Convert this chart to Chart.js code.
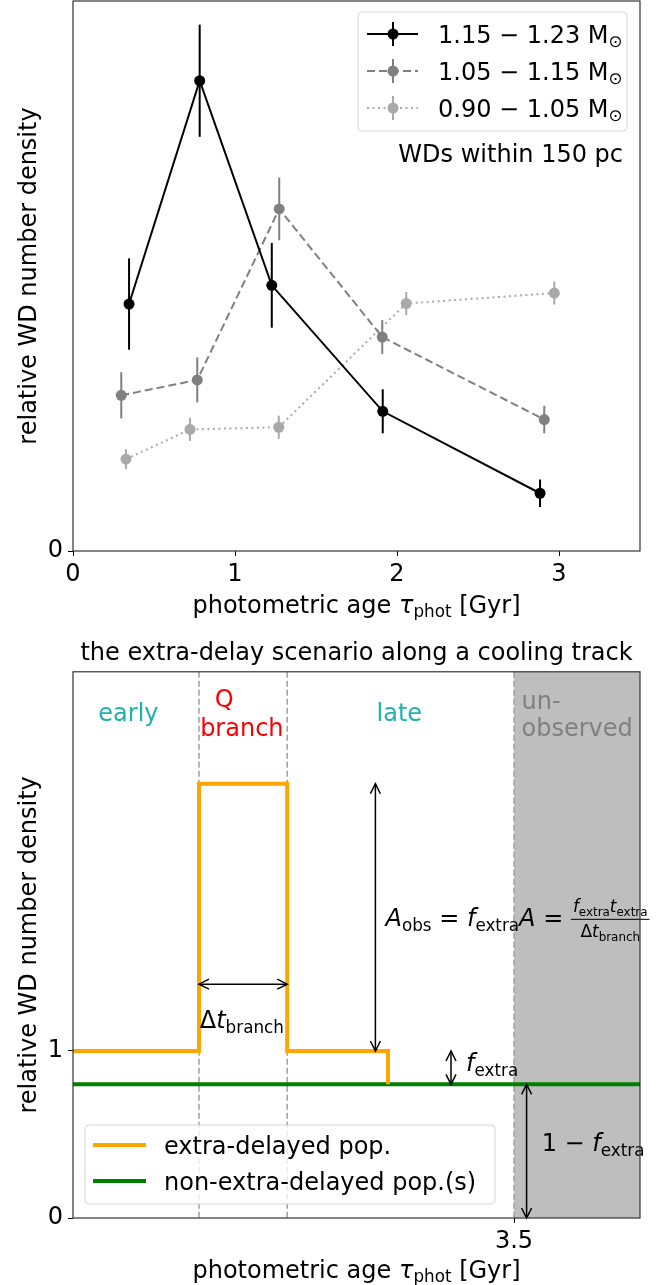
<!DOCTYPE html>
<html>
<head>
<meta charset="utf-8">
<script src="https://cdn.jsdelivr.net/npm/chart.js@4.4.1/dist/chart.umd.min.js"></script>
<style>
  html, body { margin: 0; padding: 0; background: #fff; }
  canvas { display: block; }
</style>
</head>
<body>
<canvas id="ageChart" width="657" height="620"></canvas>
<canvas id="sketchChart" width="657" height="665"></canvas>
<script>
// top panel: WDs within 150 pc, three mass bins
const massBins = ["1.15 \u2212 1.23", "1.05 \u2212 1.15", "0.90 \u2212 1.05"]
const heavyAge = [0.346, 0.782, 1.227, 1.912, 2.883]
const heavyDensity = [0.449, 0.855, 0.483, 0.254, 0.105]
const heavyErr = [0.083, 0.102, 0.077, 0.040, 0.025]
const midAge = [0.298, 0.767, 1.273, 1.909, 2.909]
const midDensity = [0.283, 0.311, 0.622, 0.389, 0.239]
const midErr = [0.042, 0.041, 0.057, 0.031, 0.025]
const lightAge = [0.327, 0.722, 1.270, 2.057, 2.971]
const lightDensity = [0.167, 0.221, 0.225, 0.450, 0.469]
const lightErr = [0.018, 0.021, 0.021, 0.021, 0.021]
const topXTicks = [0, 1, 2, 3]
const topYTicks = [0]

// bottom panel: the extra-delay sketch
const delayedAge = [0, 1.0, 1.0, 1.7, 1.7, 2.5, 2.5]
const delayedDensity = [1, 1, 2.6, 2.6, 1, 1, 0.8]
const steadyAge = [0, 4.5]
const steadyDensity = [0.8, 0.8]
const phaseEdges = [1.0, 1.7, 3.5]
const unobservedFrom = 3.5
const bottomXTicks = [3.5]
const bottomYTicks = [0, 1]

Chart.defaults.font.family = "'DejaVu Sans', sans-serif"
Chart.defaults.font.size = 24
Chart.defaults.color = "#000"
Chart.defaults.animation = false

const FACE = "'DejaVu Sans', sans-serif"
const font = (size, italic) => `${italic ? "italic " : ""}${size}px ${FACE}`

// parts are [text, kind]; kind "" roman, "i" italic, "s" subscript
function richWidth(ctx, parts, size) {
  let w = 0
  for (const [t, k] of parts) {
    ctx.font = font(k.includes("s") ? size * 0.7 : size, k.includes("i"))
    w += ctx.measureText(t).width
  }
  return w
}

function drawRich(ctx, parts, x, y, size, align, color) {
  const w = richWidth(ctx, parts, size)
  let cx = align === "center" ? x - w / 2 : align === "right" ? x - w : x
  const base = y + size * 0.36
  ctx.save()
  ctx.fillStyle = color || "#000"
  ctx.textAlign = "left"
  ctx.textBaseline = "alphabetic"
  for (const [t, k] of parts) {
    const sub = k.includes("s")
    ctx.font = font(sub ? size * 0.7 : size, k.includes("i"))
    ctx.fillText(t, cx, sub ? base + size * 0.2 : base)
    cx += ctx.measureText(t).width
  }
  ctx.restore()
  return w
}

function arrow(ctx, x1, y1, x2, y2) {
  const head = (xa, ya, xb, yb) => {
    const ang = Math.atan2(yb - ya, xb - xa)
    ctx.beginPath()
    ctx.moveTo(xa + 10 * Math.cos(ang) - 5 * Math.sin(ang), ya + 10 * Math.sin(ang) + 5 * Math.cos(ang))
    ctx.lineTo(xa, ya)
    ctx.lineTo(xa + 10 * Math.cos(ang) + 5 * Math.sin(ang), ya + 10 * Math.sin(ang) - 5 * Math.cos(ang))
    ctx.stroke()
  }
  ctx.save()
  ctx.strokeStyle = "#000"
  ctx.lineWidth = 1.5
  ctx.beginPath()
  ctx.moveTo(x1, y1)
  ctx.lineTo(x2, y2)
  ctx.stroke()
  head(x1, y1, x2, y2)
  head(x2, y2, x1, y1)
  ctx.restore()
}

const xTitle = [["photometric age ", ""], ["\u03c4", "i"], ["phot", "s"], [" [Gyr]", ""]]

function axisStyle(ticks, pad) {
  return {
    grid: { display: true, drawOnChartArea: false, tickLength: 5, tickColor: "#000", tickWidth: 1 },
    border: { display: false },
    ticks: { color: "#000", font: { size: 24 }, padding: pad, maxRotation: 0, autoSkip: false, callback: v => String(v) },
    afterBuildTicks: s => { s.ticks = ticks.map(value => ({ value })) }
  }
}

// fixed axis boxes so the plot area lands where the figure has it
const fixX = h => s => { s.height = h; s.paddingLeft = 0; s.paddingRight = 0 }
const fixY = w => s => { s.width = w; s.paddingTop = 0; s.paddingBottom = 0 }

const frame = {
  id: "frame",
  afterDraw(chart, args, opts) {
    const { ctx, chartArea: a } = chart
    ctx.save()
    ctx.strokeStyle = "#333"
    ctx.lineWidth = 1.2
    ctx.strokeRect(a.left, a.top, a.right - a.left, a.bottom - a.top)
    drawRich(ctx, xTitle, (a.left + a.right) / 2, a.bottom + opts.titleGap, 24, "center")
    ctx.restore()
  }
}

const errorBars = {
  id: "errorBars",
  afterDatasetDraw(chart, args) {
    const ds = chart.data.datasets[args.index]
    if (!ds.errors) return
    const { ctx } = chart
    const y = chart.scales.y
    ctx.save()
    ctx.strokeStyle = ds.borderColor
    ctx.lineWidth = 2
    args.meta.data.forEach((pt, i) => {
      const v = ds.data[i].y
      ctx.beginPath()
      ctx.moveTo(pt.x, y.getPixelForValue(v - ds.errors[i]))
      ctx.lineTo(pt.x, y.getPixelForValue(v + ds.errors[i]))
      ctx.stroke()
    })
    ctx.restore()
  }
}

const massLegend = {
  id: "massLegend",
  afterDraw(chart) {
    const { ctx, chartArea: a } = chart
    const right = a.right - 13, top = a.top + 11, w = 269, h = 119
    const left = right - w
    ctx.save()
    ctx.beginPath()
    ctx.roundRect(left, top, w, h, 4)
    ctx.fillStyle = "rgba(255,255,255,0.8)"
    ctx.fill()
    ctx.strokeStyle = "#d6d6d6"
    ctx.lineWidth = 1
    ctx.stroke()
    chart.data.datasets.forEach((ds, i) => {
      const y = top + 22 + i * 37
      ctx.strokeStyle = ds.borderColor
      ctx.fillStyle = ds.borderColor
      ctx.lineWidth = 2
      ctx.setLineDash(ds.borderDash)
      ctx.beginPath()
      ctx.moveTo(left + 9, y)
      ctx.lineTo(left + 60, y)
      ctx.stroke()
      ctx.setLineDash([])
      ctx.beginPath()
      ctx.moveTo(left + 35, y - 12)
      ctx.lineTo(left + 35, y + 12)
      ctx.stroke()
      ctx.beginPath()
      ctx.arc(left + 35, y, 5.5, 0, Math.PI * 2)
      ctx.fill()
      drawRich(ctx, [[ds.label + " M", ""], ["\u2299", "s"]], left + 80, y, 24, "left")
    })
    drawRich(ctx, [["WDs within 150 pc", ""]], a.right - 17, top + 141, 24, "right")
    ctx.restore()
  }
}

const series = [
  { label: massBins[0], x: heavyAge, y: heavyDensity, err: heavyErr, color: "#000000", dash: [] },
  { label: massBins[1], x: midAge, y: midDensity, err: midErr, color: "#808080", dash: [8, 4] },
  { label: massBins[2], x: lightAge, y: lightDensity, err: lightErr, color: "#a9a9a9", dash: [2, 3.5] }
]

new Chart(document.getElementById("ageChart"), {
  type: "line",
  data: {
    datasets: series.map(s => ({
      label: s.label,
      data: s.x.map((x, i) => ({ x, y: s.y[i] })),
      errors: s.err,
      borderColor: s.color,
      backgroundColor: s.color,
      pointBackgroundColor: s.color,
      borderWidth: 2,
      borderDash: s.dash,
      pointRadius: 5.5,
      pointHoverRadius: 5.5,
      pointBorderWidth: 0,
      tension: 0
    }))
  },
  options: {
    responsive: false,
    layout: { autoPadding: false, padding: { top: 1, right: 17, left: 0, bottom: 0 } },
    plugins: { legend: { display: false }, tooltip: { enabled: false }, frame: { titleGap: 53 } },
    scales: {
      x: { type: "linear", min: 0, max: 3.5, ...axisStyle(topXTicks, 4), afterFit: fixX(69) },
      y: {
        min: 0, max: 1.0, ...axisStyle(topYTicks, 5),
        title: { display: true, text: "relative WD number density", font: { size: 24 }, padding: { top: 15, bottom: 0 } },
        afterFit: fixY(73)
      }
    }
  },
  plugins: [errorBars, massLegend, frame]
})

const phases = {
  id: "phases",
  beforeDatasetsDraw(chart) {
    const { ctx, chartArea: a, scales: { x } } = chart
    ctx.save()
    ctx.fillStyle = "#bebebe"
    const gx = x.getPixelForValue(unobservedFrom)
    ctx.fillRect(gx, a.top, a.right - gx, a.bottom - a.top)
    ctx.strokeStyle = "#a0a0a0"
    ctx.lineWidth = 1.5
    ctx.setLineDash([6, 3])
    phaseEdges.forEach(v => {
      const px = x.getPixelForValue(v)
      ctx.beginPath()
      ctx.moveTo(px, a.top)
      ctx.lineTo(px, a.bottom)
      ctx.stroke()
    })
    ctx.restore()
  },
  afterDatasetsDraw(chart) {
    const { ctx, scales: { x, y } } = chart
    const X = v => x.getPixelForValue(v), Y = v => y.getPixelForValue(v)
    const teal = "#20b2aa"
    drawRich(ctx, [["early", ""]], X(0.44), Y(3.03), 24, "center", teal)
    drawRich(ctx, [["Q", ""]], X(1.2), Y(3.11), 24, "center", "#ff0000")
    drawRich(ctx, [["branch", ""]], X(1.34), Y(2.94), 24, "center", "#ff0000")
    drawRich(ctx, [["late", ""]], X(2.59), Y(3.03), 24, "center", teal)
    drawRich(ctx, [["un-", ""]], X(3.56), Y(3.1), 24, "left", "#808080")
    drawRich(ctx, [["observed", ""]], X(3.56), Y(2.94), 24, "left", "#808080")

    const peak = Math.max(...delayedDensity)
    arrow(ctx, X(2.4), Y(peak), X(2.4), Y(1))
    arrow(ctx, X(1.0), Y(1.4), X(1.7), Y(1.4))
    arrow(ctx, X(3.0), Y(1), X(3.0), Y(0.8))
    arrow(ctx, X(3.6), Y(0.8), X(3.6), Y(0))

    drawRich(ctx, [["\u0394", ""], ["t", "i"], ["branch", "s"]], X(1.34), Y(1.19), 24, "center")
    drawRich(ctx, [["f", "i"], ["extra", "s"]], X(3.12), Y(0.93), 24, "left")
    drawRich(ctx, [["1 \u2212 ", ""], ["f", "i"], ["extra", "s"]], X(3.72), Y(0.45), 24, "left")

    const fy = Y(1.8), fx = X(2.48)
    const w1 = drawRich(ctx, [["A", "i"], ["obs", "s"], [" = ", ""], ["f", "i"], ["extra", "s"], ["A", "i"], [" = ", ""]], fx, fy, 24, "left")
    const num = [["f", "i"], ["extra", "s"], ["t", "i"], ["extra", "s"]]
    const den = [["\u0394", ""], ["t", "i"], ["branch", "s"]]
    const fw = Math.max(richWidth(ctx, num, 17), richWidth(ctx, den, 17)) + 4
    const cx = fx + w1 + fw / 2
    drawRich(ctx, num, cx, fy - 11, 17, "center")
    drawRich(ctx, den, cx, fy + 14, 17, "center")
    ctx.save()
    ctx.strokeStyle = "#000"
    ctx.lineWidth = 1
    ctx.beginPath()
    ctx.moveTo(fx + w1, fy + 2)
    ctx.lineTo(fx + w1 + fw, fy + 2)
    ctx.stroke()
    ctx.restore()
  }
}

const popLegend = {
  id: "popLegend",
  afterDraw(chart) {
    const { ctx, chartArea: a } = chart
    const left = a.left + 12, top = a.bottom - 93, w = 410, h = 79
    ctx.save()
    ctx.beginPath()
    ctx.roundRect(left, top, w, h, 4)
    ctx.fillStyle = "rgba(255,255,255,0.8)"
    ctx.fill()
    ctx.strokeStyle = "#d6d6d6"
    ctx.lineWidth = 1
    ctx.stroke()
    chart.data.datasets.forEach((ds, i) => {
      const y = top + 20 + i * 36
      ctx.strokeStyle = ds.borderColor
      ctx.lineWidth = 4
      ctx.beginPath()
      ctx.moveTo(left + 8, y)
      ctx.lineTo(left + 61, y)
      ctx.stroke()
      drawRich(ctx, [[ds.label, ""]], left + 79, y, 24, "left")
    })
    ctx.restore()
  }
}

new Chart(document.getElementById("sketchChart"), {
  type: "line",
  data: {
    datasets: [
      {
        label: "extra-delayed pop.",
        data: delayedAge.map((x, i) => ({ x, y: delayedDensity[i] })),
        borderColor: "#ffa500",
        borderWidth: 4,
        pointRadius: 0,
        tension: 0
      },
      {
        label: "non-extra-delayed pop.(s)",
        data: steadyAge.map((x, i) => ({ x, y: steadyDensity[i] })),
        borderColor: "#008000",
        borderWidth: 4,
        pointRadius: 0,
        tension: 0
      }
    ]
  },
  options: {
    responsive: false,
    layout: { autoPadding: false, padding: { top: 0, right: 17, left: 0, bottom: 0 } },
    plugins: {
      legend: { display: false },
      tooltip: { enabled: false },
      title: {
        display: true,
        fullSize: false,
        text: "the extra-delay scenario along a cooling track",
        font: { size: 24, weight: "normal" },
        color: "#000",
        padding: { top: 19, bottom: 4 }
      },
      frame: { titleGap: 51 }
    },
    scales: {
      x: { type: "linear", min: 0, max: 4.5, ...axisStyle(bottomXTicks, 4), afterFit: fixX(67) },
      y: {
        min: 0, max: 3.27, ...axisStyle(bottomYTicks, 5),
        title: { display: true, text: "relative WD number density", font: { size: 24 }, padding: { top: 15, bottom: 0 } },
        afterFit: fixY(73)
      }
    }
  },
  plugins: [phases, popLegend, frame]
})
</script>
</body>
</html>
